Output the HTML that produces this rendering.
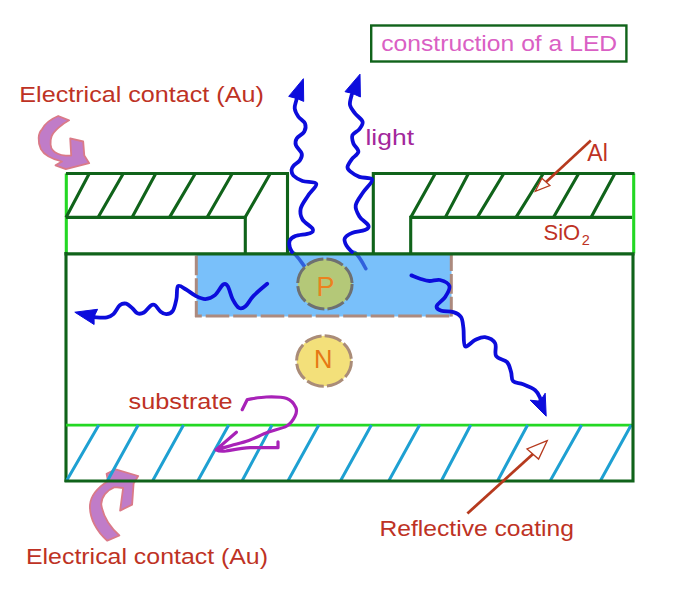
<!DOCTYPE html>
<html><head><meta charset="utf-8">
<style>
html,body{margin:0;padding:0;background:#fff;width:685px;height:599px;overflow:hidden}
svg{display:block}
text{font-family:"Liberation Sans",sans-serif}
</style></head>
<body>
<svg width="685" height="599" viewBox="0 0 685 599">
<rect width="685" height="599" fill="#fff"/>

<rect x="371.2" y="25.5" width="255.2" height="36" fill="none" stroke="#10631a" stroke-width="2.4"/>
<text x="381.2" y="50.5" font-size="22.5" fill="#da60c4" textLength="236" lengthAdjust="spacingAndGlyphs">construction of a LED</text>

<g fill="#c07cc8" stroke="#da7a88" stroke-width="1.8" stroke-linejoin="round">
<path d="M58.2,116 L69.1,120.3 C62,124 54,131 51.7,136 C49.5,142 50.5,148 52.8,150.2 C55,153 60,155 65.8,155.6 L71.2,155.6 L70.2,138.4 L83.2,141.5 L84.3,155.6 L89.2,163.2 L65.8,169.1 L55.5,165.3 L62,161.5 C52,159 44,155 40.9,149.1 C37.5,142 38,133 41.9,129.5 C45,123 51,119 58.2,116 Z"/>
<path d="M107.3,540.7 L119.4,535.5 C110,527 103,516 101.3,504.6 C101,497 107,490 114.1,487.3 L117.1,487.3 L123.1,488 L120.1,510.6 L132.1,504.6 L133.6,483.6 L138.2,476 L115.6,469.3 L106.6,473.8 L108,481 C97,488 91,495 90,504.6 C89,518 97,532 107.3,540.7 Z"/>
</g>

<g stroke="#24d824" stroke-width="3.1" fill="none">
  <path d="M66.3,173.5 V253.5"/>
  <path d="M633.7,173.5 V253.5"/>
</g>
<g stroke="#10631a" stroke-width="3.1" fill="none" stroke-linecap="square">
  <path d="M67.5,173.5 H287.5 V253.5"/>
  <path d="M67.5,217.4 H245.3 V253.5"/>
  <path d="M66,253.5 V480.5"/>
  <path d="M373.3,253.5 V173.5 H633"/>
  <path d="M410.7,253.5 V217.4 H630.5"/>
</g>
<g stroke="#10631a" stroke-width="3.1" fill="none">
  <path d="M66.0,217.4 L89.0,174.0 M98.0,217.4 L123.0,174.0 M132.0,217.4 L155.5,174.0 M169.5,217.4 L195.0,174.0 M207.0,217.4 L232.0,174.0 M245.0,217.4 L270.0,174.0"/>
  <path d="M410.7,217.4 L435.0,174.0 M445.3,217.4 L468.2,174.0 M477.3,217.4 L503.5,174.0 M516.0,217.4 L543.0,174.0 M553.4,217.4 L578.4,174.0 M591.0,217.4 L614.6,174.0"/>
</g>

<path d="M66,425.1 H633" stroke="#24d824" stroke-width="2.8"/>
<path d="M66.7,480.5 L98.8,425.0 M107.6,480.5 L138.2,425.0 M152.8,480.5 L183.5,425.0 M198.0,480.5 L228.7,425.0 M242.3,480.5 L272.0,425.0 M288.2,480.5 L318.8,425.0 M340.7,480.5 L371.4,425.0 M389.0,480.5 L419.6,425.0 M441.5,480.5 L470.7,425.0 M497.8,480.5 L527.6,425.0 M550.4,480.5 L581.6,425.0 M600.6,480.5 L631.2,425.0" stroke="#1ea0d2" stroke-width="3" fill="none"/>
<path d="M64.5,481 H633 V253.5" stroke="#10631a" stroke-width="3.1" fill="none"/>

<rect x="196.5" y="254" width="255" height="62.5" fill="#79c0fa"/>
<g stroke="#3060dc" stroke-width="3.6" fill="none" stroke-linecap="round">
<path d="M292.0,252.0 C292.5,252.4 293.4,252.5 295.2,254.4 C296.9,256.3 300.4,260.7 302.5,263.6 C304.6,266.5 307.1,270.4 308.0,271.8"/>
<path d="M352.0,252.0 C352.6,252.2 354.2,251.7 355.7,253.1 C357.2,254.5 359.5,257.8 361.2,260.4 C362.9,263.0 365.0,267.3 365.8,268.7"/>
</g>
<g stroke="#ac8a7e" stroke-width="3" fill="none">
<path d="M196.3,255.4 V317" stroke-dasharray="19.8 3"/>
<path d="M451.3,255 V317" stroke-dasharray="19.8 3" stroke-dashoffset="3.8"/>
<path d="M195,316 H452.8" stroke-dasharray="23.6 3.9" stroke-dashoffset="16.8"/>
</g>
<path d="M64.5,253.9 H634.5" stroke="#10631a" stroke-width="3.1"/>

<ellipse cx="324.9" cy="284" rx="27.2" ry="25" fill="#b4c878" stroke="#6e7070" stroke-width="3" stroke-dasharray="17.5 3.2"/>
<ellipse cx="324" cy="361" rx="27.4" ry="25.2" fill="#f3e07a" stroke="#aa8c78" stroke-width="3" stroke-dasharray="17.5 3.2"/>
<text x="325.5" y="295.6" font-size="27" fill="#eb821e" text-anchor="middle">P</text>
<text x="323.3" y="368" font-size="25.5" fill="#e67814" text-anchor="middle">N</text>

<g stroke="#0c0cdc" stroke-width="3.8" fill="none" stroke-linecap="round" stroke-linejoin="round">
  <path d="M296.7,98.4 C296.6,98.7 296.7,98.3 296.4,100.0 C296.1,101.7 294.4,105.6 294.7,108.4 C295.0,111.2 296.7,114.2 298.4,116.7 C300.1,119.2 304.0,120.9 305.0,123.4 C306.0,125.9 305.6,129.3 304.2,131.8 C302.8,134.3 298.1,136.2 296.7,138.4 C295.3,140.6 295.1,142.6 295.9,145.1 C296.7,147.6 301.0,151.0 301.7,153.5 C302.4,156.0 301.4,158.0 300.0,160.1 C298.6,162.2 294.8,164.3 293.4,166.0 C292.0,167.7 291.5,168.4 291.5,170.0 C291.5,171.6 291.5,173.7 293.3,175.5 C295.1,177.3 298.7,179.6 302.5,181.0 C306.3,182.4 315.4,181.4 316.3,183.8 C317.2,186.2 310.6,191.6 308.0,195.7 C305.4,199.8 301.6,204.5 300.7,208.5 C299.8,212.5 300.5,216.1 302.5,219.5 C304.5,222.9 311.4,226.4 312.6,228.7 C313.8,231.0 312.8,232.1 309.9,233.3 C307.0,234.5 298.6,234.9 295.2,236.1 C291.8,237.3 290.6,238.8 289.7,240.6 C288.8,242.4 289.3,245.1 289.7,247.0 C290.1,248.9 291.6,251.2 292.0,252.0"/>
  <path d="M352.5,93.4 C352.4,93.7 352.1,93.1 351.7,95.0 C351.3,96.9 349.4,101.9 350.0,105.0 C350.6,108.1 352.9,110.6 355.0,113.4 C357.1,116.2 361.9,119.1 362.6,121.8 C363.3,124.5 360.9,127.1 359.2,129.3 C357.5,131.5 353.5,132.7 352.5,135.1 C351.5,137.5 352.4,140.7 353.4,143.5 C354.4,146.3 358.7,149.2 358.4,151.8 C358.1,154.4 353.5,156.8 351.7,159.3 C349.9,161.8 347.8,164.8 347.5,166.8 C347.2,168.8 348.2,169.7 350.2,171.4 C352.2,173.1 355.7,175.5 359.4,176.9 C363.1,178.3 371.6,177.1 372.2,179.7 C372.8,182.3 365.8,188.2 363.0,192.5 C360.2,196.8 356.3,201.4 355.7,205.4 C355.1,209.4 357.3,213.0 359.4,216.4 C361.5,219.8 367.6,223.3 368.5,225.6 C369.4,227.9 367.6,228.9 364.9,230.1 C362.1,231.3 355.4,231.5 352.0,232.9 C348.6,234.3 345.6,236.3 344.7,238.4 C343.8,240.5 345.3,243.4 346.5,245.7 C347.7,248.0 351.1,250.9 352.0,252.0"/>
  <path d="M94.1,316.5 C94.4,316.6 93.6,317.2 95.7,317.3 C97.8,317.4 104.0,317.8 106.9,317.3 C109.9,316.8 111.2,316.1 113.4,314.1 C115.6,312.1 117.7,307.0 119.8,305.3 C121.9,303.6 124.1,303.2 126.2,303.7 C128.3,304.2 130.7,306.9 132.6,308.5 C134.5,310.1 135.5,312.6 137.4,313.3 C139.3,314.0 141.6,313.8 143.9,312.5 C146.2,311.2 149.2,306.5 151.1,305.3 C153.0,304.1 153.5,304.2 155.1,305.3 C156.7,306.4 158.8,310.2 160.7,311.7 C162.6,313.2 164.4,314.2 166.4,314.1 C168.4,314.0 171.1,313.4 172.8,310.9 C174.5,308.4 175.5,303.2 176.4,299.1 C177.3,295.0 176.4,287.8 178.0,286.2 C179.6,284.6 183.2,287.9 186.1,289.5 C189.0,291.1 192.5,294.3 195.7,295.9 C198.9,297.5 202.1,299.2 205.3,299.1 C208.5,299.0 212.1,297.5 215.0,295.1 C217.9,292.7 220.9,286.1 223.0,284.6 C225.1,283.1 226.2,283.8 227.8,286.2 C229.4,288.6 230.7,295.5 232.6,299.1 C234.5,302.7 236.8,306.7 239.0,307.9 C241.2,309.1 243.1,308.3 245.5,306.3 C247.9,304.3 249.9,299.6 253.5,295.9 C257.1,292.1 264.9,285.8 267.2,283.8"/>
  <path d="M411.4,275.4 C412.8,275.9 417.0,277.8 420.0,278.7 C423.0,279.6 426.1,280.8 429.4,281.0 C432.7,281.2 436.7,279.2 440.0,280.0 C443.3,280.8 448.5,283.2 449.4,286.0 C450.3,288.8 447.5,293.3 445.4,296.7 C443.3,300.1 437.4,303.8 436.7,306.1 C436.0,308.5 438.6,309.8 441.4,310.8 C444.2,311.8 450.1,311.1 453.4,312.1 C456.7,313.1 459.3,314.4 461.0,317.0 C462.7,319.6 462.7,323.1 463.4,328.0 C464.1,332.9 463.1,344.1 465.0,346.1 C466.9,348.1 471.7,341.6 475.0,340.1 C478.3,338.6 481.6,336.6 485.0,337.1 C488.4,337.6 493.2,339.9 495.1,343.1 C497.0,346.3 494.1,352.9 496.1,356.1 C498.1,359.3 504.6,359.4 507.1,362.1 C509.6,364.8 510.1,368.9 511.1,372.1 C512.1,375.3 511.1,379.2 513.1,381.2 C515.1,383.2 519.4,382.7 523.1,384.2 C526.8,385.7 532.4,387.9 535.2,390.2 C538.1,392.5 539.4,396.4 540.2,398.2 C541.0,400.0 540.2,400.7 540.2,401.2"/>
</g>
<g fill="#0c0cdc" stroke="#0c0cdc" stroke-width="1" stroke-linejoin="round">
  <path d="M303.4,78.7 L288.7,96.4 L296.7,98.4 L303.7,101.4 Z"/>
  <path d="M360,74.2 L345,91.7 L352.5,93.4 L360.4,97 Z"/>
  <path d="M74.8,312.2 L97.6,309.3 L94.1,316.5 L94.1,324.5 Z"/>
  <path d="M546.2,416.2 L530.2,400.2 L540.2,401.2 L545.2,393.2 Z"/>
</g>

<path d="M242.2,409.7 L247.3,399.5 C250.5,399.1 259.7,397.2 266.3,397.0 C272.9,396.8 281.9,396.8 286.8,398.5 C291.7,400.2 294.4,404.5 295.8,407.5 C297.2,410.5 296.5,413.2 295.0,416.3 C293.5,419.4 291.3,423.3 286.8,426.0 C282.3,428.7 274.1,429.9 267.8,432.3 C261.5,434.7 254.9,438.2 248.8,440.4 C242.7,442.6 236.8,443.9 231.3,445.5 C225.8,447.1 218.6,449.2 216.0,449.9 L236.4,432.3 M216,449.9 C219,451.5 222,451.5 226,451 C235,449.5 242,448 250,447.7 L278,447.7 L278,441.8" stroke="#a822b8" stroke-width="3.2" fill="none" stroke-linecap="round" stroke-linejoin="round"/>

<g stroke="#b63a1e" fill="none">
  <path d="M590.8,140.5 L538.5,189" stroke-width="2.6"/>
  <path d="M535.3,191.3 L541.9,178.2 L549.9,185.5 Z" stroke-width="1.3" fill="#fff"/>
  <path d="M467.4,513.5 L544,444" stroke-width="2.8"/>
  <path d="M547.2,440.7 L527,449 L538.6,459.1 Z" stroke-width="1.3" fill="#fff"/>
</g>

<g fill="#be3224" font-size="22">
  <text x="19.3" y="102" textLength="244.5" lengthAdjust="spacingAndGlyphs">Electrical contact (Au)</text>
  <text x="587.3" y="160.7" font-size="23">Al</text>
  <text x="543.5" y="240">SiO</text>
  <text x="581.8" y="245.1" font-size="14.5">2</text>
  <text x="128.5" y="408.6" textLength="104" lengthAdjust="spacingAndGlyphs">substrate</text>
  <text x="379.5" y="536.1" textLength="194.5" lengthAdjust="spacingAndGlyphs">Reflective coating</text>
  <text x="26" y="563.9" textLength="242" lengthAdjust="spacingAndGlyphs">Electrical contact (Au)</text>
</g>
<text x="365.5" y="145" font-size="22" fill="#a3279c" textLength="48.5" lengthAdjust="spacingAndGlyphs">light</text>
</svg>
</body></html>
